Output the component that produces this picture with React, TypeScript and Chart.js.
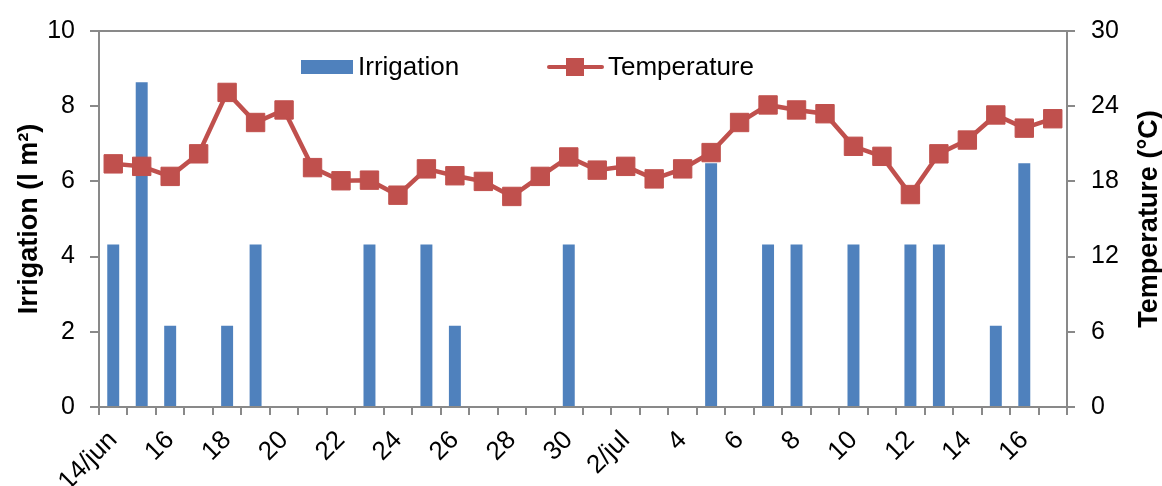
import React, { useEffect, useRef } from "react";
import { Chart, registerables } from "chart.js";

Chart.register(...registerables);

const categories = [
  "14/jun", "15/jun", "16/jun", "17/jun", "18/jun", "19/jun", "20/jun", "21/jun", "22/jun",
  "23/jun", "24/jun", "25/jun", "26/jun", "27/jun", "28/jun", "29/jun", "30/jun",
  "1/jul", "2/jul", "3/jul", "4/jul", "5/jul", "6/jul", "7/jul", "8/jul", "9/jul",
  "10/jul", "11/jul", "12/jul", "13/jul", "14/jul", "15/jul", "16/jul", "17/jul",
];

const tickLabels = [
  "14/jun", "", "16", "", "18", "", "20", "", "22", "", "24", "", "26", "", "28", "", "30",
  "", "2/jul", "", "4", "", "6", "", "8", "", "10", "", "12", "", "14", "", "16", "",
];

const irrigation = [
  4.32, 8.64, 2.16, 0, 2.16, 4.32, 0, 0, 0, 4.32, 0, 4.32, 2.16, 0, 0, 0, 4.32,
  0, 0, 0, 0, 6.48, 0, 4.32, 4.32, 0, 4.32, 0, 4.32, 4.32, 0, 2.16, 6.48, 0,
];

const temperature = [
  19.4, 19.2, 18.4, 20.2, 25.1, 22.7, 23.7, 19.1, 18.05, 18.1, 16.9, 19.0, 18.45, 18.0, 16.8, 18.4, 19.95,
  18.9, 19.2, 18.2, 19.0, 20.3, 22.7, 24.1, 23.7, 23.4, 20.8, 20.0, 16.95, 20.2, 21.3, 23.3, 22.25, 23.0,
];

const leftTicks = [0, 2, 4, 6, 8, 10];
const rightTicks = [0, 6, 12, 18, 24, 30];

const BLUE = "#4F81BD";
const RED = "#C0504D";
const AXIS = "#898989";
const FONT = "'Liberation Sans', Arial, sans-serif";

const overlay = {
  id: "overlay",
  afterDraw(chart: any) {
    const { ctx, chartArea } = chart;
    ctx.save();
    // top border of plot area
    ctx.strokeStyle = AXIS;
    ctx.lineWidth = 2;
    ctx.beginPath();
    ctx.moveTo(chartArea.left - 9, chartArea.top);
    ctx.lineTo(chartArea.right + 8, chartArea.top);
    ctx.stroke();

    // legend
    ctx.fillStyle = BLUE;
    ctx.fillRect(301, 60, 52, 14);
    ctx.fillStyle = "#000";
    ctx.font = `26px ${FONT}`;
    ctx.textBaseline = "middle";
    ctx.textAlign = "left";
    ctx.fillText("Irrigation", 358, 68);

    ctx.strokeStyle = RED;
    ctx.lineWidth = 4;
    ctx.lineCap = "round";
    ctx.beginPath();
    ctx.moveTo(549, 67);
    ctx.lineTo(602, 67);
    ctx.stroke();
    ctx.fillStyle = RED;
    ctx.fillRect(566, 58, 18, 18);
    ctx.fillStyle = "#000";
    ctx.fillText("Temperature", 608, 68);

    // axis titles
    ctx.font = `bold 27px ${FONT}`;
    ctx.textAlign = "center";
    ctx.textBaseline = "alphabetic";
    const midY = (chartArea.top + chartArea.bottom) / 2;
    ctx.save();
    ctx.translate(37, midY);
    ctx.rotate(-Math.PI / 2);
    ctx.fillText("Irrigation (l m²)", 0, 0);
    ctx.restore();
    ctx.save();
    ctx.translate(1157, midY);
    ctx.rotate(-Math.PI / 2);
    ctx.fillText("Temperature (°C)", 0, 0);
    ctx.restore();
    ctx.restore();
  },
};

export default function App() {
  const ref = useRef<HTMLCanvasElement | null>(null);

  useEffect(() => {
    if (!ref.current) return;
    const chart = new Chart(ref.current, {
      type: "bar",
      data: {
        labels: categories,
        datasets: [
          {
            type: "line",
            label: "Temperature",
            data: temperature,
            yAxisID: "y1",
            borderColor: RED,
            backgroundColor: RED,
            borderWidth: 4.5,
            pointStyle: "rect",
            pointRadius: 13,
            pointBorderWidth: 1,
            pointBackgroundColor: RED,
            pointBorderColor: RED,
            tension: 0,
            order: 0,
          } as any,
          {
            type: "bar",
            label: "Irrigation",
            data: irrigation,
            yAxisID: "y",
            backgroundColor: BLUE,
            borderWidth: 0,
            barPercentage: 0.42,
            categoryPercentage: 1,
            order: 1,
          },
        ],
      },
      options: {
        animation: false,
        responsive: false,
        devicePixelRatio: 1,
        layout: { padding: { top: 28, left: 0, right: 0, bottom: 0 } },
        plugins: {
          legend: { display: false },
          tooltip: { enabled: false },
        },
        scales: {
          x: {
            offset: true,
            grid: {
              offset: true,
              drawOnChartArea: false,
              drawTicks: true,
              tickLength: 8,
              color: AXIS,
              lineWidth: 2,
            },
            border: { display: true, color: AXIS, width: 2 },
            ticks: {
              autoSkip: false,
              maxRotation: 45,
              minRotation: 45,
              padding: 10,
              color: "#000",
              font: { family: FONT, size: 26 },
              callback: (_v: any, i: number) => tickLabels[i],
            },
            afterFit: (s: any) => {
              s.height = 79;
            },
          },
          y: {
            position: "left",
            min: 0,
            max: 10,
            afterBuildTicks: (s: any) => {
              s.ticks = leftTicks.map((v) => ({ value: v }));
            },
            grid: {
              drawOnChartArea: false,
              drawTicks: true,
              tickLength: 9,
              color: AXIS,
              lineWidth: 2,
            },
            border: { display: true, color: AXIS, width: 2 },
            ticks: {
              padding: 15,
              color: "#000",
              font: { family: FONT, size: 25 },
            },
            afterFit: (s: any) => {
              s.width = 99;
            },
          },
          y1: {
            position: "right",
            min: 0,
            max: 30,
            afterBuildTicks: (s: any) => {
              s.ticks = rightTicks.map((v) => ({ value: v }));
            },
            grid: {
              drawOnChartArea: false,
              drawTicks: true,
              tickLength: 8,
              color: AXIS,
              lineWidth: 2,
            },
            border: { display: true, color: AXIS, width: 2 },
            ticks: {
              padding: 16,
              color: "#000",
              font: { family: FONT, size: 25 },
            },
            afterFit: (s: any) => {
              s.width = 95;
            },
          },
        },
      },
      plugins: [overlay],
    });
    return () => chart.destroy();
  }, []);

  return (
    <div style={{ position: "fixed", left: 0, top: 0, width: 1162, height: 486, background: "#fff" }}>
      <canvas ref={ref} width={1162} height={486} />
    </div>
  );
}
